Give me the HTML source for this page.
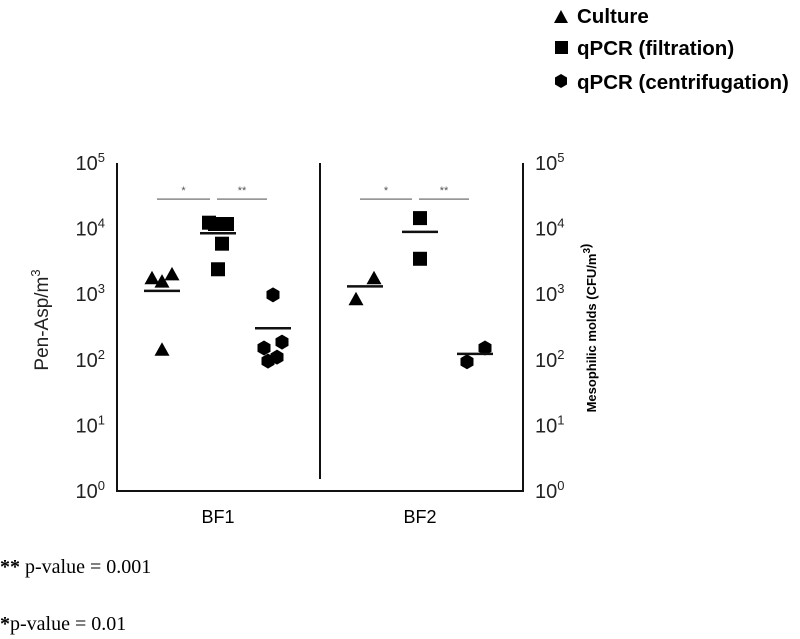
<!DOCTYPE html>
<html><head><meta charset="utf-8"><style>
body{margin:0;background:#fff;width:800px;height:639px;overflow:hidden}
svg{display:block;font-family:"Liberation Sans",sans-serif}
</style></head><body>
<svg id="c" width="800" height="639">
<g font-weight="bold" font-size="20.5">
<polygon points="554,23 561,10 568,23"/>
<text x="577" y="23">Culture</text>
<rect x="555" y="41" width="13" height="13"/>
<text x="577" y="55">qPCR (filtration)</text>
<polygon points="561,74 567,77.5 567,84.5 561,88 555,84.5 555,77.5"/>
<text x="577" y="89">qPCR (centrifugation)</text>
</g>
<text transform="translate(48,320) rotate(-90)" text-anchor="middle" font-size="19" fill="#222">Pen-Asp/m<tspan dy="-8" font-size="13">3</tspan></text>
<text transform="translate(596,328) rotate(-90)" text-anchor="middle" font-size="13" font-weight="bold">Mesophilic molds (CFU/m<tspan dy="-6" font-size="10">3</tspan>)</text>
<g id="plot"></g>
<g font-family="Liberation Serif,serif" font-size="20">
<text x="0" y="573"><tspan font-weight="bold">**</tspan> p-value = 0.001</text>
<text x="0" y="630"><tspan font-weight="bold">*</tspan>p-value = 0.01</text>
</g>
</svg>
<script>
const categories=["BF1","BF2"];
const cultureBF1=[3.25,3.2,3.31,2.16];
const filtrationBF1=[4.09,4.07,4.07,3.77,3.38];
const centrifBF1=[2.99,2.27,2.18,1.98,2.04];
const cultureBF2=[2.93,3.25];
const filtrationBF2=[4.16,3.54];
const centrifBF2=[1.97,2.18];
const meansBF1=[3.05,3.93,2.48];
const meansBF2=[3.12,3.95,2.09];
const tickExps=[0,1,2,3,4,5];
const sigLabels=["*","**"];
const sigY=4.45;

const NS="http://www.w3.org/2000/svg";
const g=document.getElementById('plot');
const L=117,R=523,T=163,B=491;
const y=v=>B-(B-T)*v/5;
const groupX=[[162,218,273],[365,420,475]];
const jit={cultureBF1:[-10,0,10,0],filtrationBF1:[-9,-3,9,4,0],centrifBF1:[0,9,-9,-5,4],cultureBF2:[-9,9],filtrationBF2:[0,0],centrifBF2:[-8,10]};
function mk(t,a){const e=document.createElementNS(NS,t);for(const k in a)e.setAttribute(k,a[k]);g.appendChild(e);return e;}
let e;
e=mk('path',{d:`M${L},${T}V${B}H${R}V${T}`,fill:'none',stroke:'#111','stroke-width':2});


e=mk('line',{x1:320,y1:T,x2:320,y2:479,stroke:'#111','stroke-width':2});


tickExps.forEach(p=>{
 [[L-12,'end'],[R+12,'start']].forEach(([x,an],i)=>{
  const t=mk('text',{x:x,y:y(p)+7,'text-anchor':an,'font-size':20,fill:'#222'});
  
  
  t.innerHTML='10<tspan dy="-8" font-size="13">'+p+'</tspan>';
 });
});
categories.forEach((c,i)=>{
 const t=mk('text',{x:groupX[i][1],y:523,'text-anchor':'middle','font-size':18});
 
 
 t.textContent=c;
});
function marker(shape,cx,cy,name){
 let el;
 if(shape==='tri')el=mk('polygon',{points:`${cx-7.5},${cy+6.5} ${cx},${cy-7} ${cx+7.5},${cy+6.5}`});
 else if(shape==='sq')el=mk('rect',{x:cx-7,y:cy-7,width:14,height:14});
 else el=mk('polygon',{points:`${cx},${cy-7.5} ${cx+6.5},${cy-3.7} ${cx+6.5},${cy+3.7} ${cx},${cy+7.5} ${cx-6.5},${cy+3.7} ${cx-6.5},${cy-3.7}`});
 
 
}
const series=[[cultureBF1,'tri','cultureBF1',0,0],[filtrationBF1,'sq','filtrationBF1',0,1],[centrifBF1,'hex','centrifBF1',0,2],
[cultureBF2,'tri','cultureBF2',1,0],[filtrationBF2,'sq','filtrationBF2',1,1],[centrifBF2,'hex','centrifBF2',1,2]];
series.forEach(([vals,sh,key,gi,si])=>{
 vals.forEach((v,k)=>marker(sh,groupX[gi][si]+(jit[key][k]||0),y(v),'point-'+key+'-'+k));
});
[meansBF1,meansBF2].forEach((m,gi)=>{
 m.forEach((v,si)=>{
  const cx=groupX[gi][si];
  const l=mk('line',{x1:cx-18,x2:cx+18,y1:y(v),y2:y(v),stroke:'#111','stroke-width':2.5});
  
  
 });
 sigLabels.forEach((s,k)=>{
  const x1=groupX[gi][k]-5+(k?4:0),x2=groupX[gi][k+1]-8+(k?2:0);
  const l=mk('line',{x1:x1,x2:x2,y1:y(sigY),y2:y(sigY),stroke:'#888','stroke-width':1.5});
  
  
  const t=mk('text',{x:(x1+x2)/2,y:y(sigY)-5,'text-anchor':'middle','font-size':11,fill:'#555'});
  
  
  t.textContent=s;
 });
});
</script>
</body></html>
